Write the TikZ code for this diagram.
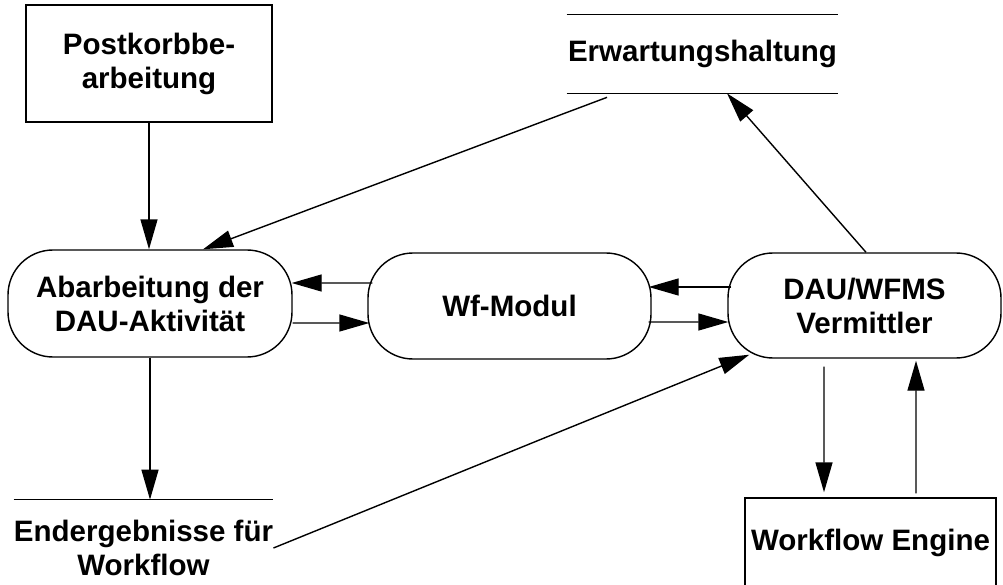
\documentclass[tikz,border=0pt]{standalone}
\usepackage{fontspec}
\setmainfont{Liberation Sans}
\usetikzlibrary{arrows.meta,calc,positioning}

\tikzset{
	every node/.style={font=\bfseries\fontsize{16.8}{19.4}\selectfont, align=center},
	box/.style={draw, line width=0.8pt, inner sep=0pt},
	proc/.style={draw, line width=0.8pt, rounded corners=0.9cm, inner sep=0pt},
	store/.style={inner sep=0pt},
	arr/.style={-{Triangle[length=0.6cm,width=0.34cm]}, line width=0.8pt},
}

\begin{document}
\begin{tikzpicture}
	\useasboundingbox (0,0) rectangle (20.06,11.68);
	\node[box, minimum width=4.92cm, minimum height=2.34cm] (post) at (2.98,10.41) {Postkorbbe-\\arbeitung};
	\node[proc, minimum width=5.68cm, minimum height=2.14cm] (abarb) at (3.0,5.61) {Abarbeitung der\\DAU-Aktivität};
	\node[proc, minimum width=5.66cm, minimum height=2.12cm] (wf) at (10.19,5.56) {Wf-Modul};
	\node[proc, minimum width=5.46cm, minimum height=2.1cm] (dau) at (17.29,5.57) {DAU/WFMS\\Vermittler};
	\node[store, minimum width=5.42cm, minimum height=1.56cm] (erw) at (14.05,10.6) {Erwartungshaltung};
	\node[store, minimum width=5.18cm, minimum height=1.92cm] (endg) at (2.87,0.72) {Endergebnisse für\\Workflow};
	\node[box, minimum width=5.02cm, minimum height=1.8cm] (engine) at (17.41,0.82) {Workflow Engine};
	\draw[line width=0.8pt] (erw.north west) -- (erw.north east) (erw.south west) -- (erw.south east);
	\draw[line width=0.8pt] (endg.north west) -- (endg.north east);
	\draw[arr] (post.south) -- (post.south |- abarb.north);
	\draw[arr] ($(erw.south) + (-1.91,-0.08)$) -- ($(abarb.north) + (1.06,0)$);
	\draw[arr] ($(dau.north) + (0.03,0)$) -- ($(erw.south) + (0.49,0)$);
	\draw[arr] ($(wf.west) + (0.1,0.46)$) -- ($(abarb.east) + (-0.02,0.41)$);
	\draw[arr] ($(abarb.east) + (0,-0.39)$) -- ($(wf.west) + (0.04,-0.34)$);
	\draw[arr] ($(dau.west) + (0.08,0.37)$) -- ($(wf.east) + (-0.06,0.38)$);
	\draw[arr] ($(wf.east) + (-0.06,-0.32)$) -- ($(dau.west) + (0.02,-0.33)$);
	\draw[arr] (abarb.south) -- (abarb.south |- endg.north);
	\draw[arr] (endg.east) -- ($(dau.south west) + (0.44,0.08)$);
	\draw[arr] ($(dau.south) + (-0.81,-0.16)$) -- ($(engine.north) + (-0.93,0.1)$);
	\draw[arr] ($(engine.north) + (0.91,0.08)$) -- ($(dau.south) + (1.03,-0.04)$);
\end{tikzpicture}
\end{document}
